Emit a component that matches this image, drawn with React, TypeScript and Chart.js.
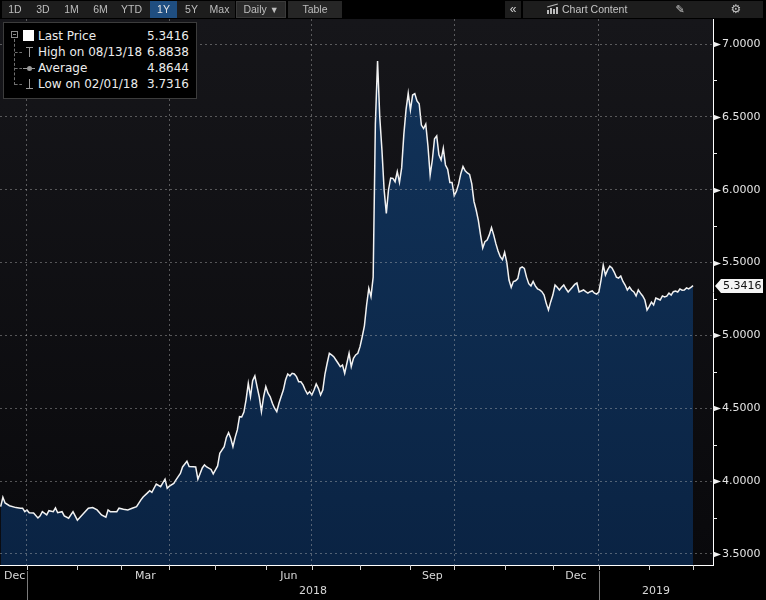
import React, { useEffect, useRef } from 'react';
import { Chart, registerables } from 'chart.js';

Chart.register(...registerables);

// USD/TRY last price. x = weekday (FX trading day) index counted from Mon 1 Jan 2018.
const weekdayIdx: number[] = [
  -12, -11, -10, -8, -5, -3, -2, -1, 0, 1, 3, 5, 6, 7, 9, 10, 12, 13, 14, 16,
  17, 19, 21, 23, 26, 28, 30, 32, 34, 36, 37, 38, 41, 42, 44, 46, 48, 50, 52, 53,
  55, 56, 57, 59, 61, 62, 63, 64, 65, 67, 68, 70, 71, 73, 74, 76, 77, 78, 80, 81,
  82, 84, 85, 87, 88, 90, 91,
  92, 93, 94, 95, 96, 97, 98, 99, 100, 101, 102, 103, 104, 105, 106, 107, 108, 109, 110, 111,
  112, 113, 114, 115, 116, 117, 118, 119, 120, 121, 122, 123, 124, 125, 126, 127, 128, 129, 130, 131,
  132, 133, 134, 135, 136, 137, 138, 139, 140, 141, 142, 143, 144, 145, 146, 147, 148, 149, 150, 151,
  152, 153, 154, 155, 156, 157, 158, 159, 160, 161, 162, 163, 164, 165, 166, 167, 168, 169, 170, 171,
  172, 173, 174, 175, 176, 177, 178, 179, 180, 181, 182, 183, 184, 185, 186, 187, 188, 189, 190, 191,
  192, 193, 194, 195, 196, 197, 198, 199, 200, 201, 202, 203, 204, 205, 206, 207, 208, 209, 210, 211,
  212, 213, 214, 215, 216, 217, 218, 219, 220, 221, 222, 223, 224, 225, 226, 227, 228, 229, 230, 231,
  232, 233, 234, 235, 236, 237, 238, 239, 240, 241, 242, 243, 244, 245, 246, 247, 248, 249, 250, 251,
  252, 253, 254, 255, 256, 257, 258, 259, 260, 261, 262, 263, 264, 265, 266, 267, 268, 269, 270, 271,
  272, 273, 274, 275, 276, 277, 278, 279, 280, 281, 282, 283, 284, 285, 286, 287, 288, 289, 290, 291,
  292, 293, 294, 295, 296, 297, 298, 299, 300, 301, 302, 303, 304,
];

const usdTry: number[] = [
  3.825, 3.889, 3.85, 3.831, 3.818, 3.814, 3.814, 3.79, 3.802, 3.783, 3.781, 3.747, 3.761, 3.79, 3.768, 3.797, 3.79, 3.816, 3.783, 3.79,
  3.761, 3.745, 3.79, 3.7316, 3.781, 3.814, 3.818, 3.802, 3.768, 3.752, 3.802, 3.79, 3.79, 3.814, 3.807, 3.802, 3.814, 3.825, 3.871, 3.891,
  3.919, 3.934, 3.922, 3.98, 3.962, 3.987, 4.013, 3.951, 3.965, 3.984, 4.008, 4.052, 4.097, 4.136, 4.1, 4.099, 4.097, 4.013, 4.09, 4.111,
  4.097, 4.08, 4.049, 4.104, 4.191, 4.236, 4.3,
  4.332, 4.294, 4.236, 4.3, 4.351, 4.442, 4.44, 4.474, 4.56, 4.671, 4.579, 4.69, 4.722, 4.648, 4.579, 4.477, 4.579, 4.648, 4.603, 4.579,
  4.534, 4.5, 4.477, 4.534, 4.58, 4.625, 4.694, 4.735, 4.722, 4.74, 4.735, 4.717, 4.682, 4.682, 4.66, 4.625, 4.598, 4.614, 4.591, 4.625,
  4.667, 4.637, 4.591, 4.625, 4.735, 4.809, 4.877, 4.866, 4.854, 4.831, 4.809, 4.785, 4.797, 4.74, 4.809, 4.877, 4.785, 4.843, 4.866, 4.877,
  4.923, 4.991, 5.066, 5.209, 5.323, 5.266, 5.4, 6.45, 6.8838, 6.501, 6.273, 5.998, 5.838, 6.0, 6.08, 6.078, 6.055, 6.124, 6.05, 6.15,
  6.38, 6.55, 6.662, 6.547, 6.65, 6.66, 6.61, 6.59, 6.444, 6.42, 6.45, 6.3, 6.1, 6.204, 6.35, 6.37, 6.24, 6.204, 6.284, 6.17,
  6.14, 6.05, 6.05, 5.96, 5.99, 6.04, 6.11, 6.16, 6.13, 6.115, 6.105, 6.04, 5.92, 5.861, 5.79, 5.69, 5.6, 5.643, 5.655, 5.69,
  5.74, 5.69, 5.63, 5.58, 5.54, 5.52, 5.57, 5.5, 5.38, 5.33, 5.37, 5.375, 5.39, 5.461, 5.47, 5.46, 5.4, 5.355, 5.34, 5.37,
  5.34, 5.32, 5.312, 5.3, 5.277, 5.22, 5.175, 5.23, 5.277, 5.346, 5.33, 5.312, 5.33, 5.346, 5.32, 5.298, 5.315, 5.332, 5.35, 5.36,
  5.298, 5.305, 5.312, 5.3, 5.291, 5.3, 5.305, 5.29, 5.284, 5.298, 5.38, 5.483, 5.415, 5.45, 5.476, 5.463, 5.435, 5.4, 5.394, 5.408,
  5.37, 5.346, 5.312, 5.332, 5.31, 5.298, 5.271, 5.312, 5.29, 5.271, 5.243, 5.175, 5.2, 5.229, 5.209, 5.257, 5.25, 5.243, 5.271, 5.264,
  5.27, 5.291, 5.277, 5.3, 5.305, 5.298, 5.319, 5.31, 5.312, 5.326, 5.319, 5.33, 5.3416,
];

const yTicks = [3.5, 4.0, 4.5, 5.0, 5.5, 6.0, 6.5, 7.0];
const yMinorTicks = [3.75, 4.25, 4.75, 5.25, 5.75, 6.25, 6.75];
const monthStartIdx = [-21, 0, 23, 43, 65, 86, 109, 130, 152, 175, 195, 218, 240, 261, 284, 304];
const quarterStartIdx = [0, 65, 130, 195, 261];
const monthLabels = ['Dec', 'Mar', 'Jun', 'Sep', 'Dec'];
const monthLabelFrom = [-21, 43, 109, 175, 240];
const monthLabelTo = [0, 65, 130, 195, 261];
const yearLabels = ['2018', '2019'];
const yearFrom = [0, 261];
const yearTo = [261, 400];
const legendLabels = ['Last Price', 'High on 08/13/18', 'Average', 'Low on 02/01/18'];
const legendValues = ['5.3416', '6.8838', '4.8644', '3.7316'];
const lastPrice = 5.3416;
const rangeButtons = ['1D', '3D', '1M', '6M', 'YTD', '1Y', '5Y', 'Max'];

const X_MIN = -12.32;
const X_MAX = 313.1;
const Y_MIN = 3.424;
const Y_MAX = 7.172;

const FONT = '"DejaVu Sans", sans-serif';

const chromePlugin = {
  id: 'bbgChrome',
  beforeDraw(chart: any) {
    const { ctx, chartArea: a, width, height } = chart;
    ctx.save();
    ctx.fillStyle = '#000';
    ctx.fillRect(0, 0, width, height);
    const g = ctx.createLinearGradient(0, a.top, 0, a.bottom);
    g.addColorStop(0, '#16161a');
    g.addColorStop(1, '#09090c');
    ctx.fillStyle = g;
    ctx.fillRect(a.left, a.top, a.right - a.left, a.bottom - a.top);
    ctx.restore();
  },
  afterDraw(chart: any) {
    const { ctx, chartArea: a, width, height } = chart;
    const xs = chart.scales.x;
    const ys = chart.scales.y;
    const px = (v: number) => xs.getPixelForValue(v);
    ctx.save();
    // month tick marks
    ctx.strokeStyle = '#d0d0d0';
    ctx.lineWidth = 1;
    ctx.beginPath();
    monthStartIdx.forEach((v) => {
      const x = Math.round(px(v)) + 0.5;
      if (x < a.left || x > a.right) return;
      ctx.moveTo(x, a.bottom);
      ctx.lineTo(x, a.bottom + 5);
    });
    ctx.stroke();
    // year separators
    ctx.strokeStyle = '#7a7a7a';
    ctx.beginPath();
    yearFrom.forEach((v) => {
      const x = Math.round(px(v)) + 0.5;
      ctx.moveTo(x, a.bottom + 6);
      ctx.lineTo(x, height);
    });
    ctx.stroke();
    // labels
    ctx.font = '11px ' + FONT;
    ctx.fillStyle = '#d8d8d8';
    ctx.textAlign = 'center';
    ctx.textBaseline = 'middle';
    monthLabels.forEach((m, i) => {
      const w = ctx.measureText(m).width;
      let cx = (px(monthLabelFrom[i]) + px(monthLabelTo[i])) / 2;
      cx = Math.max(cx, a.left + 4 + w / 2);
      ctx.fillText(m, cx, a.bottom + 11);
    });
    yearLabels.forEach((yl, i) => {
      const cx = (px(yearFrom[i]) + Math.min(px(yearTo[i]), a.right)) / 2;
      ctx.fillText(yl, cx, a.bottom + 26);
    });
    // major tick pointers
    ctx.fillStyle = '#f0f0f0';
    yTicks.forEach((v) => {
      const y = Math.round(ys.getPixelForValue(v)) + 0.5;
      ctx.beginPath();
      ctx.moveTo(a.right, y - 3);
      ctx.lineTo(a.right + 8, y);
      ctx.lineTo(a.right, y + 3);
      ctx.closePath();
      ctx.fill();
    });
    // minor ticks
    ctx.strokeStyle = '#f0f0f0';
    ctx.beginPath();
    yMinorTicks.forEach((v) => {
      const y = Math.round(ys.getPixelForValue(v)) + 0.5;
      ctx.moveTo(a.right, y);
      ctx.lineTo(a.right + 4, y);
    });
    ctx.stroke();
    // last price tag
    const ly = Math.round(ys.getPixelForValue(lastPrice));
    ctx.fillStyle = '#f4f4f4';
    ctx.beginPath();
    ctx.moveTo(a.right + 2, ly);
    ctx.lineTo(a.right + 8, ly - 7);
    ctx.lineTo(width - 3, ly - 7);
    ctx.lineTo(width - 3, ly + 7);
    ctx.lineTo(a.right + 8, ly + 7);
    ctx.closePath();
    ctx.fill();
    ctx.fillStyle = '#111';
    ctx.textAlign = 'left';
    ctx.fillText(lastPrice.toFixed(4), a.right + 10, ly + 0.5);
    ctx.restore();
  },
};

function abs(left: number, top: number, width: number, height: number, extra: any = {}) {
  return { position: 'absolute' as const, left, top, width, height, boxSizing: 'border-box' as const, ...extra };
}

function Toolbar() {
  const cells = [
    [3, 24], [31, 24], [59, 25], [88, 25], [117, 29], [150, 27], [180, 23], [206, 27],
  ];
  const tb = { fontFamily: '"Liberation Sans", Arial, sans-serif', fontSize: 10.5, color: '#bdbdbd', lineHeight: '17px', textAlign: 'center' as const };
  return (
    <>
      <div style={abs(2, 1, 233, 17, { background: '#1d1d1d' })} />
      {rangeButtons.map((b, i) => (
        <div key={b} style={abs(cells[i][0], 1, cells[i][1], 17, { ...tb, background: b === '1Y' ? '#1f4e80' : 'transparent', color: b === '1Y' ? '#e4e4e4' : '#bdbdbd' })}>{b}</div>
      ))}
      <div style={abs(236, 1, 50, 17, { ...tb, background: '#2a2a2a', border: '1px solid #3a3a3a', lineHeight: '15px' })}>Daily <span style={{ fontSize: 9 }}>▼</span></div>
      <div style={abs(288, 1, 54, 17, { ...tb, background: '#262626' })}>Table</div>
      <div style={abs(505, 1, 16, 17, { ...tb, background: '#1d1d1d', fontSize: 12, lineHeight: '16px', color: '#d0d0d0' })}>«</div>
      <div style={abs(523, 1, 240, 17, { background: '#1d1d1d' })} />
      <div style={abs(547, 10, 2, 4, { background: '#bbb' })} />
      <div style={abs(550, 8, 2, 6, { background: '#bbb' })} />
      <div style={abs(553, 9, 2, 5, { background: '#bbb' })} />
      <div style={abs(556, 7, 2, 7, { background: '#bbb' })} />
      <div style={abs(547, 5, 11, 1, { background: '#bbb', transform: 'rotate(-15deg)' })} />
      <div style={abs(562, 1, 80, 17, { ...tb, textAlign: 'left', color: '#c4c4c4' })}>Chart Content</div>
      <div style={abs(673, 1, 14, 17, { ...tb, fontFamily: FONT, fontSize: 11, color: '#c4c4c4' })}>✎</div>
      <div style={abs(729, 1, 14, 17, { ...tb, fontFamily: FONT, fontSize: 12, color: '#c4c4c4' })}>⚙</div>
    </>
  );
}

function Legend() {
  const txt = { fontFamily: FONT, fontSize: 12, color: '#ececec', lineHeight: '16px', whiteSpace: 'nowrap' as const };
  const gray = '#9a9a9a';
  return (
    <>
      <div style={abs(3, 22, 194, 77, { background: '#000', border: '1px solid #3c3c3c' })} />
      {/* tree */}
      <div style={abs(11, 31, 7, 7, { border: '1px solid #8a8a8a' })} />
      <div style={abs(13, 34, 3, 1, { background: '#8a8a8a' })} />
      <div style={abs(14, 39, 1, 46, { borderLeft: '1px dashed #707070' })} />
      {[52, 68, 84].map((y) => (
        <div key={y} style={abs(15, y, 7, 1, { borderTop: '1px dashed #707070' })} />
      ))}
      <div style={abs(23, 30, 11, 11, { background: '#fff' })} />
      {/* high */}
      <div style={abs(26, 47, 7, 1, { background: gray })} />
      <div style={abs(29, 47, 1, 10, { background: gray })} />
      {/* average */}
      <div style={abs(23, 68, 12, 1, { background: gray })} />
      <div style={abs(27, 66, 5, 5, { background: gray, borderRadius: 3 })} />
      {/* low */}
      <div style={abs(29, 79, 1, 10, { background: gray })} />
      <div style={abs(26, 88, 7, 1, { background: gray })} />
      {legendLabels.map((l, i) => (
        <div key={l} style={abs(38, 28 + i * 16, 112, 16, txt)}>{l}</div>
      ))}
      {legendValues.map((v, i) => (
        <div key={i} style={abs(128, 28 + i * 16, 61, 16, { ...txt, textAlign: 'right' })}>{v}</div>
      ))}
    </>
  );
}

export default function App() {
  const ref = useRef<HTMLCanvasElement>(null);

  useEffect(() => {
    if (!ref.current) return;
    const gridColor = 'rgba(185,185,185,0.42)';
    const chart = new Chart(ref.current, {
      type: 'line',
      data: {
        datasets: [
          {
            label: 'Last Price',
            data: weekdayIdx.map((d, i) => ({ x: d, y: usdTry[i] })),
            borderColor: '#f2f2f2',
            borderWidth: 1.5,
            pointRadius: 0,
            tension: 0,
            fill: 'start',
            backgroundColor: (c: any) => {
              const a = c.chart.chartArea;
              if (!a) return '#0e2b4e';
              const g = c.chart.ctx.createLinearGradient(0, a.top, 0, a.bottom);
              g.addColorStop(0, '#12345b');
              g.addColorStop(1, '#0a2343');
              return g;
            },
          },
        ],
      },
      options: {
        responsive: false,
        animation: false,
        devicePixelRatio: 1,
        events: [],
        layout: { padding: { top: 19, left: 0, right: 0, bottom: 0 } },
        plugins: { legend: { display: false }, tooltip: { enabled: false } },
        scales: {
          x: {
            type: 'linear',
            min: X_MIN,
            max: X_MAX,
            afterBuildTicks: (s: any) => {
              s.ticks = quarterStartIdx.map((v) => ({ value: v }));
            },
            afterFit: (s: any) => {
              s.height = 35;
            },
            grid: { color: gridColor, lineWidth: 1, drawTicks: false, z: 1 },
            border: { display: true, color: '#ffffff', width: 1, dash: [2, 3], z: 2 },
            ticks: { display: false },
          },
          y: {
            position: 'right',
            min: Y_MIN,
            max: Y_MAX,
            afterBuildTicks: (s: any) => {
              s.ticks = yTicks.map((v) => ({ value: v }));
            },
            afterFit: (s: any) => {
              s.width = 53;
            },
            grid: { color: gridColor, lineWidth: 1, drawTicks: false, z: 1 },
            border: { display: true, color: '#ffffff', width: 1, dash: [2, 3], z: 2 },
            ticks: {
              color: '#e4e4e4',
              padding: 9,
              font: { family: 'DejaVu Sans', size: 11 },
              callback: (v: any) => Number(v).toFixed(4),
            },
          },
        },
      } as any,
      plugins: [chromePlugin],
    });
    return () => chart.destroy();
  }, []);

  return (
    <div style={{ position: 'absolute', left: 0, top: 0, width: 766, height: 600, background: '#000', overflow: 'hidden' }}>
      <canvas ref={ref} width={766} height={600} style={{ display: 'block', position: 'absolute', left: 0, top: 0 }} />
      <Toolbar />
      <Legend />
    </div>
  );
}
